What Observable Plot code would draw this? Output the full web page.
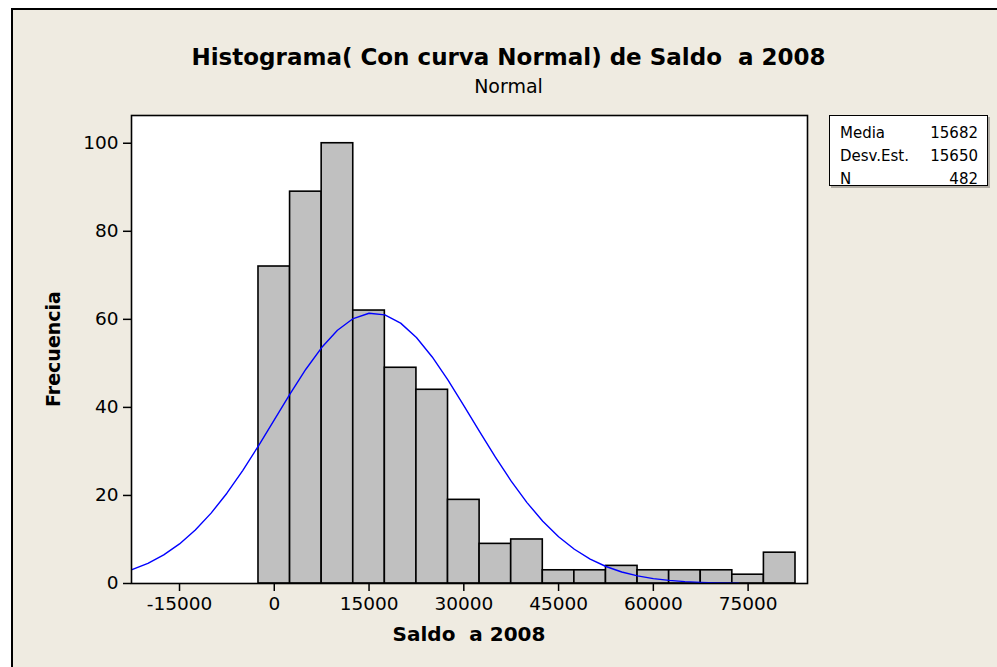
<!DOCTYPE html>
<html>
<head>
<meta charset="utf-8">
<script src="https://cdn.jsdelivr.net/npm/d3@7"></script>
<script src="https://cdn.jsdelivr.net/npm/@observablehq/plot@0.6"></script>
<style>
  html, body { margin: 0; padding: 0; background: #ffffff; overflow: hidden; }
  #page { position: relative; width: 997px; height: 667px; overflow: hidden; background: #ffffff; }
  #panel { position: absolute; left: 11px; top: 8px; width: 990px; height: 662px;
           background: #efebe1; border-left: 2px solid #000; border-top: 2px solid #000; }
  #chart { position: absolute; left: 0; top: 0; }
  .t { position: absolute; white-space: pre; color: #000; font-family: "DejaVu Sans", sans-serif; }
  #title { left: 0; width: 1017px; text-align: center; top: 44px; font-size: 23px; font-weight: bold; }
  #subtitle { left: 0; width: 1017px; text-align: center; top: 75px; font-size: 19px; }
  #xlabel { left: 131px; width: 676px; text-align: center; top: 622px; font-size: 20px; font-weight: bold; }
  #ylabel { left: 53px; top: 349px; font-size: 19px; font-weight: bold; transform: translate(-50%, -50%) rotate(-90deg); }
  #legend { position: absolute; left: 829px; top: 115px; width: 157px; height: 69px;
            border: 1.5px solid #000; background: #fff; box-shadow: 2px 2px 0 #b0aca4;
            font-family: "DejaVu Sans", sans-serif; font-size: 15px; }
  #legend .row { position: absolute; left: 10px; right: 9px; height: 23px; line-height: 23px; }
  #legend .lab { position: absolute; left: 0; }
  #legend .val { position: absolute; right: 0; }
</style>
</head>
<body>
<div id="page">
  <div id="panel"></div>
  <div id="chart"></div>
  <div class="t" id="title"></div>
  <div class="t" id="subtitle"></div>
  <div class="t" id="xlabel"></div>
  <div class="t" id="ylabel"></div>
  <div id="legend"></div>
</div>
<script>
// ---- data ----
const titleText = "Histograma( Con curva Normal) de Saldo  a 2008";
const subtitleText = "Normal";
const xLabel = "Saldo  a 2008";
const yLabel = "Frecuencia";

const binWidth = 5000;
const binCenters = [0, 5000, 10000, 15000, 20000, 25000, 30000, 35000, 40000, 45000, 50000, 55000, 60000, 65000, 70000, 75000, 80000];
const counts     = [72, 89, 100, 62, 49, 44, 19, 9, 10, 3, 3, 4, 3, 3, 3, 2, 7];

// fitted normal curve
const curveX = [-23000, -20000, -17500, -15000, -12500, -10000, -7500, -5000, -2500, 0, 2500, 5000, 7500, 10000, 12500, 15000, 17500, 20000, 22500, 25000, 27500, 30000, 32500, 35000, 37500, 40000, 42500, 45000, 47500, 50000, 52500, 55000, 57500, 60000, 62500, 65000, 67500, 70000, 72500, 73500];
const curveY = [2.90, 4.57, 6.49, 8.99, 12.14, 15.98, 20.51, 25.66, 31.28, 37.18, 43.09, 48.67, 53.59, 57.52, 60.18, 61.38, 61.02, 59.14, 55.87, 51.46, 46.20, 40.42, 34.49, 28.68, 23.25, 18.37, 14.15, 10.63, 7.78, 5.55, 3.86, 2.62, 1.74, 1.11, 0.70, 0.43, 0.26, 0.15, 0.08, 0.07];

const xTicks = [-15000, 0, 15000, 30000, 45000, 60000, 75000];
const yTicks = [0, 20, 40, 60, 80, 100];

const statLabels = ["Media", "Desv.Est.", "N"];
const statValues = ["15682", "15650", "482"];

// ---- build ----
const bins = binCenters.map((c, i) => ({x1: c - binWidth / 2, x2: c + binWidth / 2, y: counts[i]}));
const curve = curveX.map((x, i) => ({x, y: curveY[i]}));

const chart = Plot.plot({
  width: 997,
  height: 667,
  marginLeft: 131,
  marginRight: 190,
  marginTop: 115,
  marginBottom: 84,
  style: {background: "transparent", fontFamily: "DejaVu Sans, sans-serif", color: "#000"},
  x: {domain: [-22600, 84400]},
  y: {domain: [0, 106.3]},
  marks: [
    Plot.frame({fill: "#ffffff", stroke: null}),
    Plot.rectY(bins, {x1: "x1", x2: "x2", y: "y", fill: "#c0c0c0", stroke: "#000", strokeWidth: 1.6, inset: 0}),
    Plot.line(curve, {x: "x", y: "y", stroke: "#0000ff", strokeWidth: 1.4, clip: true}),
    Plot.frame({stroke: "#000", strokeWidth: 1.6}),
    Plot.axisX({ticks: xTicks, tickFormat: d => String(d), tickSize: 8, tickPadding: 5, fontSize: 18.5, strokeWidth: 1.5, label: null}),
    Plot.axisY({ticks: yTicks, tickFormat: d => String(d), tickSize: 8, tickPadding: 5, fontSize: 18.5, strokeWidth: 1.5, label: null})
  ]
});
document.getElementById("chart").appendChild(chart);

document.getElementById("title").textContent = titleText;
document.getElementById("subtitle").textContent = subtitleText;
document.getElementById("xlabel").textContent = xLabel;
document.getElementById("ylabel").textContent = yLabel;

const legend = document.getElementById("legend");
statLabels.forEach((lab, i) => {
  const row = document.createElement("div");
  row.className = "row";
  row.style.top = (5.5 + i * 23) + "px";
  const a = document.createElement("span"); a.className = "lab"; a.textContent = lab;
  const b = document.createElement("span"); b.className = "val"; b.textContent = statValues[i];
  row.appendChild(a); row.appendChild(b);
  legend.appendChild(row);
});
</script>
</body>
</html>
